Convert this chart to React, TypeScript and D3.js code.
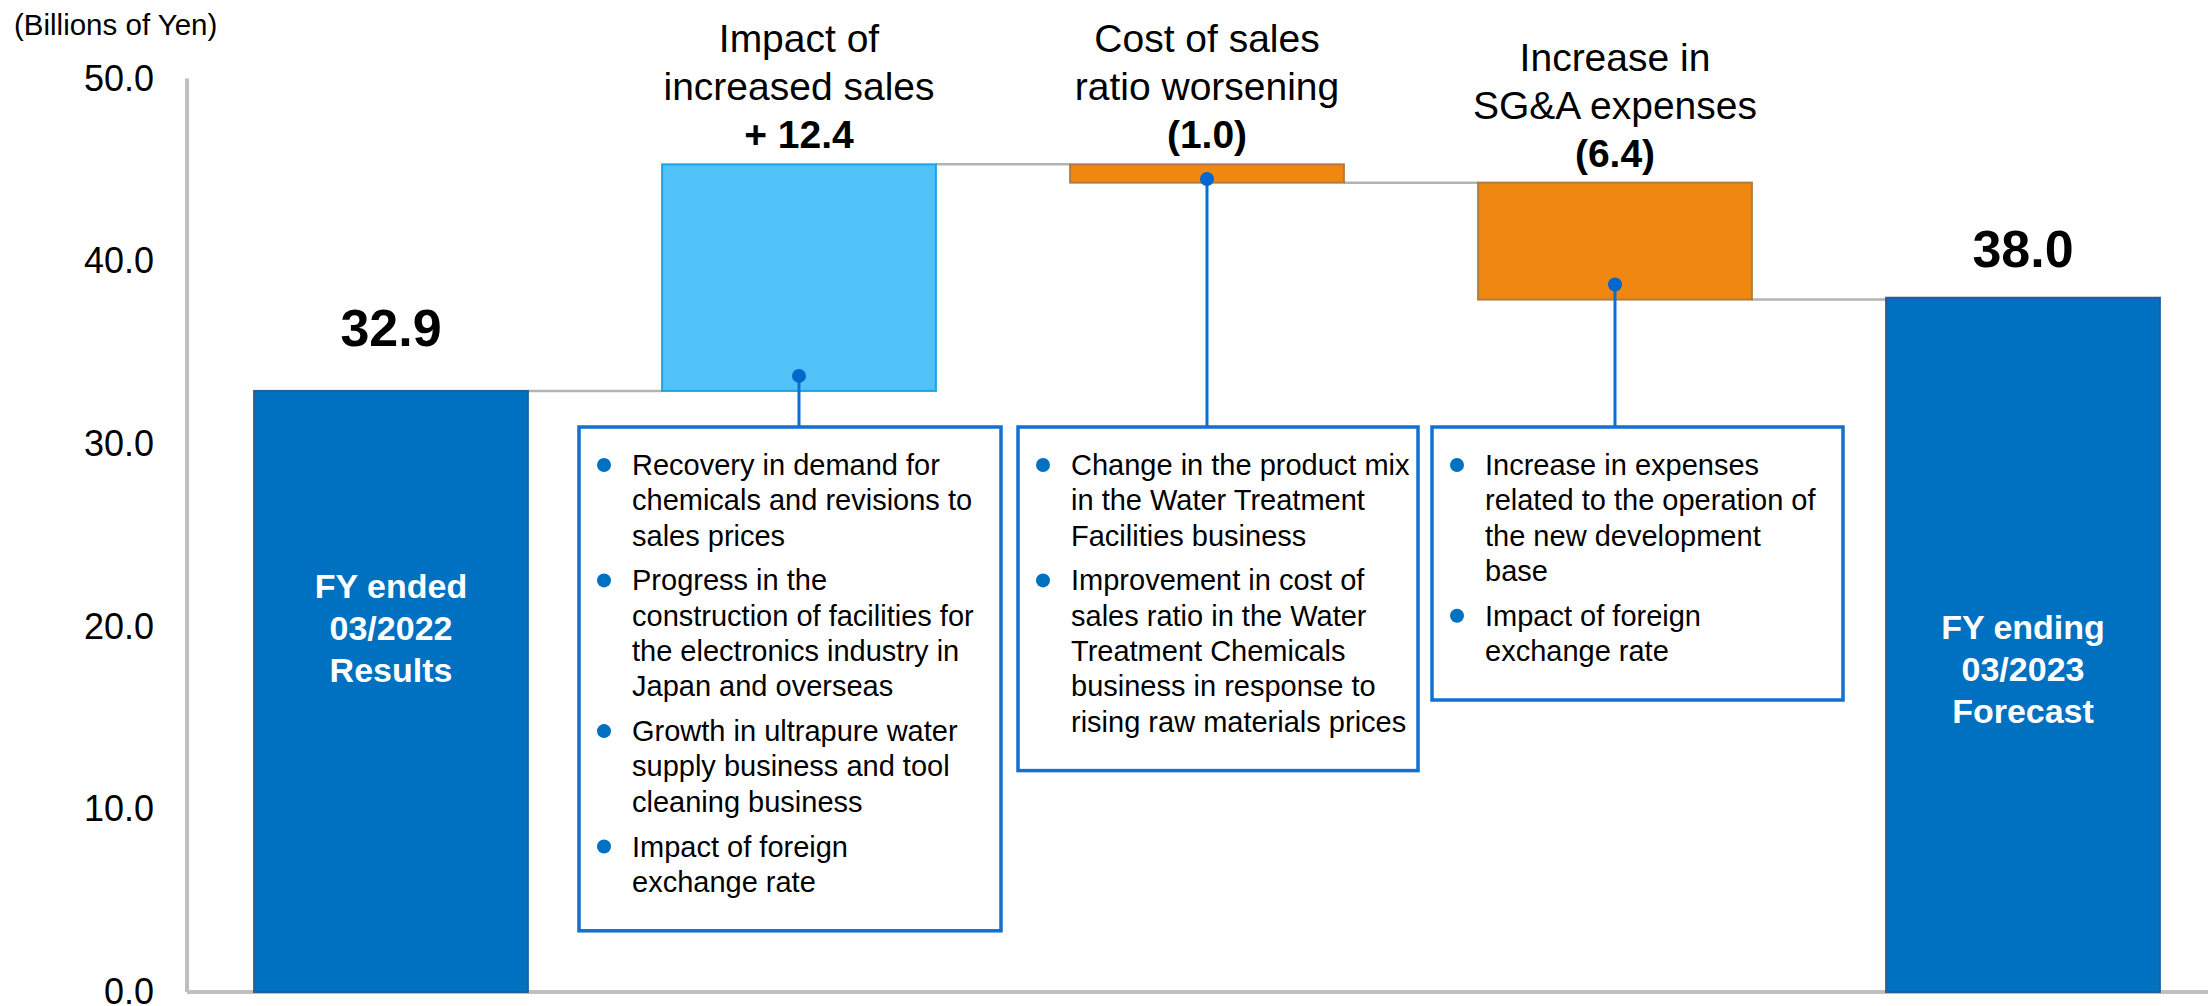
import * as d3 from 'd3';
import React, { useEffect, useRef } from 'react';

// steps of the bridge, left to right
const steps = ['FY2022', 'Sales', 'CostRatio', 'SGA', 'FY2023'];
const stepKinds = ['total', 'delta', 'delta', 'delta', 'total'];
const stepValues = [32.9, 12.4, -1.0, -6.4, 38.0];

// text for the two total bars
const totalNames = [
  ['FY ended', '03/2022', 'Results'],
  ['FY ending', '03/2023', 'Forecast'],
];

// titles above the change bars
const deltaTitles = [
  ['Impact of', 'increased sales'],
  ['Cost of sales', 'ratio worsening'],
  ['Increase in', 'SG&A expenses'],
];

// explanations in the boxes under the change bars
const deltaNotes = [
  [
    ['Recovery in demand for', 'chemicals and revisions to', 'sales prices'],
    ['Progress in the', 'construction of facilities for', 'the electronics industry in', 'Japan and overseas'],
    ['Growth in ultrapure water', 'supply business and tool', 'cleaning business'],
    ['Impact of foreign', 'exchange rate'],
  ],
  [
    ['Change in the product mix', 'in the Water Treatment', 'Facilities business'],
    ['Improvement in cost of', 'sales ratio in the Water', 'Treatment Chemicals', 'business in response to', 'rising raw materials prices'],
  ],
  [
    ['Increase in expenses', 'related to the operation of', 'the new development', 'base'],
    ['Impact of foreign', 'exchange rate'],
  ],
];

const yTicks = [0, 10, 20, 30, 40, 50];
const unitLabel = '(Billions of Yen)';

const FONT = '"Liberation Sans", Arial, Helvetica, sans-serif';

const Bridge = () => {
  const svgRef = useRef(null);

  useEffect(() => {
    const svg = d3.select(svgRef.current);
    svg.selectAll('*').remove();

    const width = 2208;
    const axisX = 187;

    const x = d3.scaleBand().domain(steps).range([axisX, 2227])
      .paddingInner(0.329).paddingOuter(0.1645);
    const y = d3.scaleLinear().domain([0, 50]).range([992, 78.5]);

    // running levels for the waterfall
    let level = 0;
    const bars = steps.map((s, i) => {
      let start, end;
      if (stepKinds[i] === 'total') {
        start = 0;
        end = stepValues[i];
      } else {
        start = level;
        end = level + stepValues[i];
      }
      level = end;
      return { step: s, kind: stepKinds[i], value: stepValues[i], start, end };
    });

    // layout bits that belong to the annotations
    const totalGap = { FY2022: 45, FY2023: 31 };
    const totalTextTop = { FY2022: 598, FY2023: 639 };
    const boxes = [
      { step: 'Sales', x0: 579, x1: 1001 },
      { step: 'CostRatio', x0: 1018, x1: 1418 },
      { step: 'SGA', x0: 1432, x1: 1843 },
    ];
    const boxTop = 427;

    // axes
    svg.append('line')
      .attr('x1', axisX).attr('x2', axisX)
      .attr('y1', y(50)).attr('y2', y(0))
      .attr('stroke', '#bfbfbf').attr('stroke-width', 4);
    svg.append('line')
      .attr('x1', axisX).attr('x2', width)
      .attr('y1', y(0)).attr('y2', y(0))
      .attr('stroke', '#bfbfbf').attr('stroke-width', 4);

    svg.append('g')
      .selectAll('text')
      .data(yTicks)
      .enter()
      .append('text')
        .attr('x', 154)
        .attr('y', d => y(d) + 12)
        .attr('text-anchor', 'end')
        .attr('font-size', 36)
        .attr('font-family', FONT)
        .attr('fill', '#000')
        .text(d => d3.format('.1f')(d));

    svg.append('text')
      .attr('x', 14).attr('y', 35)
      .attr('font-size', 29.5)
      .attr('font-family', FONT)
      .text(unitLabel);

    // connectors between bars
    svg.append('g')
      .selectAll('line')
      .data(bars.slice(0, -1))
      .enter()
      .append('line')
        .attr('x1', (d) => x(d.step) + x.bandwidth())
        .attr('x2', (d, i) => x(bars[i + 1].step))
        .attr('y1', d => y(d.end))
        .attr('y2', d => y(d.end))
        .attr('stroke', '#b3b3b3')
        .attr('stroke-width', 2.5);

    const fillOf = d => d.kind === 'total' ? '#0070c0' : d.value > 0 ? '#50c2f7' : '#ef8710';
    const strokeOf = d => d.kind === 'total' ? '#1f5f9c' : d.value > 0 ? '#1ba3e6' : '#b27a3c';

    svg.append('g')
      .selectAll('rect')
      .data(bars)
      .enter()
      .append('rect')
        .attr('x', d => x(d.step))
        .attr('width', x.bandwidth())
        .attr('y', d => y(Math.max(d.start, d.end)))
        .attr('height', d => Math.abs(y(d.start) - y(d.end)))
        .attr('fill', fillOf)
        .attr('stroke', strokeOf)
        .attr('stroke-width', 2);

    // totals: value above, name inside
    const totals = bars.filter(d => d.kind === 'total');
    totals.forEach((d, i) => {
      const cx = x(d.step) + x.bandwidth() / 2;
      svg.append('text')
        .attr('x', cx)
        .attr('y', y(d.end) - totalGap[d.step])
        .attr('text-anchor', 'middle')
        .attr('font-size', 52)
        .attr('font-weight', 'bold')
        .attr('font-family', FONT)
        .text(d3.format('.1f')(d.value));
      totalNames[i].forEach((line, j) => {
        svg.append('text')
          .attr('x', cx)
          .attr('y', totalTextTop[d.step] + j * 42)
          .attr('text-anchor', 'middle')
          .attr('font-size', 34)
          .attr('font-weight', 'bold')
          .attr('font-family', FONT)
          .attr('fill', '#fff')
          .text(line);
      });
    });

    // changes: title + value above, dot, line, note box
    const deltas = bars.filter(d => d.kind === 'delta');
    deltas.forEach((d, i) => {
      const cx = x(d.step) + x.bandwidth() / 2;
      const top = y(Math.max(d.start, d.end));
      const bottom = y(Math.min(d.start, d.end));
      const valueText = d.value > 0 ? `+ ${d3.format('.1f')(d.value)}` : `(${d3.format('.1f')(-d.value)})`;
      const lines = [...deltaTitles[i], valueText];
      lines.forEach((line, j) => {
        svg.append('text')
          .attr('x', cx)
          .attr('y', top - 16 - (lines.length - 1 - j) * 48)
          .attr('text-anchor', 'middle')
          .attr('font-size', 39)
          .attr('font-weight', j === lines.length - 1 ? 'bold' : 'normal')
          .attr('font-family', FONT)
          .text(line);
      });

      const box = boxes[i];
      // note lines
      const notes = deltaNotes[i];
      const rows = [];
      let cy = boxTop + 38;
      notes.forEach((para) => {
        para.forEach((line, k) => {
          rows.push({ text: line, y: cy, bullet: k === 0 });
          cy += 35.3;
        });
        cy += 9.5;
      });
      const lastY = rows[rows.length - 1].y;
      const boxBottom = lastY + 49;

      const dotY = bottom - Math.min(15, (bottom - top) * 0.2);
      svg.append('line')
        .attr('x1', cx).attr('x2', cx)
        .attr('y1', dotY).attr('y2', boxTop)
        .attr('stroke', '#0b6fd0')
        .attr('stroke-width', 3);
      svg.append('circle')
        .attr('cx', cx).attr('cy', dotY)
        .attr('r', 7)
        .attr('fill', '#0068cc');

      svg.append('rect')
        .attr('x', box.x0).attr('y', boxTop)
        .attr('width', box.x1 - box.x0)
        .attr('height', boxBottom - boxTop)
        .attr('fill', '#fff')
        .attr('stroke', '#1170d0')
        .attr('stroke-width', 3.5);

      rows.forEach((r) => {
        if (r.bullet) {
          svg.append('circle')
            .attr('cx', box.x0 + 25)
            .attr('cy', r.y)
            .attr('r', 7)
            .attr('fill', '#0070c0');
        }
        svg.append('text')
          .attr('x', box.x0 + 53)
          .attr('y', r.y + 10)
          .attr('font-size', 29)
          .attr('font-family', FONT)
          .attr('fill', '#000')
          .text(r.text);
      });
    });
  }, []);

  return (
    <svg
      ref={svgRef}
      width={2208}
      height={1006}
      style={{ position: 'absolute', left: 0, top: 0, background: '#fff' }}
    />
  );
};

export default function App() {
  return <Bridge />;
}
